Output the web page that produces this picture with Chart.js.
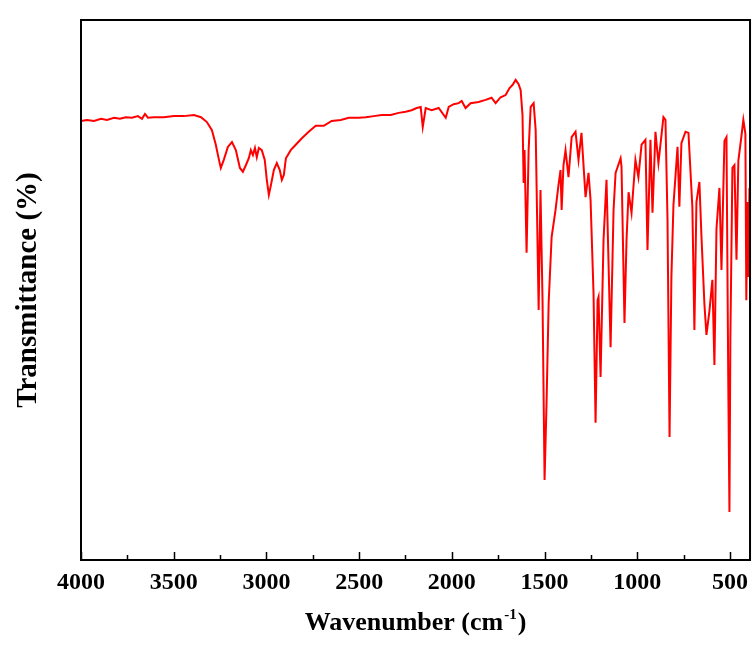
<!DOCTYPE html>
<html>
<head>
<meta charset="utf-8">
<script src="https://cdn.jsdelivr.net/npm/chart.js@4/dist/chart.umd.min.js"></script>
<style>
  html, body { margin: 0; padding: 0; background: #fff; }
</style>
</head>
<body>
<canvas id="irChart" width="756" height="648"></canvas>
<script>
// wavenumbers (cm-1) and transmittance (%)
const wavenumber = [
  4000, 3968, 3930, 3892, 3860, 3822, 3790, 3758, 3725, 3693, 3671, 3655, 3639, 3607, 3553, 3499,
  3445, 3391, 3353, 3321, 3294, 3273, 3256, 3246, 3230, 3208, 3186, 3165, 3143, 3127, 3111, 3095,
  3084, 3073, 3062, 3052, 3041, 3025, 3009, 2998, 2987, 2976, 2960, 2944, 2928, 2917, 2906, 2895,
  2869, 2842, 2809, 2772, 2734, 2691, 2648, 2599, 2556, 2502, 2464, 2421, 2378, 2330, 2287, 2249,
  2217, 2190, 2168, 2157, 2141, 2109, 2071, 2033, 2017, 1990, 1963, 1947, 1926, 1899, 1856, 1818,
  1786, 1764, 1737, 1710, 1689, 1672, 1656, 1640, 1629,
  1619, 1613, 1608, 1597, 1586, 1575, 1559, 1548, 1532, 1522, 1511, 1500, 1489, 1478, 1462, 1441,
  1425, 1414, 1408, 1398, 1387, 1371, 1354, 1333, 1317, 1301, 1279, 1263, 1252, 1236, 1225, 1214,
  1209, 1198, 1182, 1166, 1144, 1128, 1117, 1090, 1085, 1069, 1058, 1047, 1031, 1010, 994, 977,
  956, 945, 929, 918, 902, 886, 859, 848, 837, 826, 816, 805, 783, 773, 762, 740,
  724, 703, 692, 681, 665, 654, 638, 627, 611, 595, 584, 573, 557, 546, 530, 519,
  509, 503, 498, 487, 476, 465, 455, 439, 428, 417, 412, 406, 401, 395
];
const transmittance = [
  81.3, 81.5, 81.3, 81.7, 81.5, 81.9, 81.7, 82.0, 81.9, 82.2, 81.7, 82.6, 81.9, 82.0, 82.0, 82.2,
  82.2, 82.4, 82.0, 81.1, 79.6, 76.9, 74.1, 72.6, 74.1, 76.5, 77.4, 75.9, 72.6, 71.9, 73.1, 74.4,
  75.9, 75.0, 76.3, 74.6, 76.3, 75.9, 74.1, 70.4, 67.6, 69.4, 72.2, 73.5, 72.2, 70.4, 71.3, 74.4,
  75.9, 76.9, 78.1, 79.3, 80.4, 80.4, 81.3, 81.5, 81.9, 81.9, 82.0, 82.2, 82.4, 82.4, 82.8, 83.0,
  83.3, 83.7, 83.9, 80.2, 83.7, 83.3, 83.7, 81.9, 83.9, 84.4, 84.6, 85.0, 83.7, 84.6, 84.8, 85.2,
  85.6, 84.6, 85.7, 86.1, 87.4, 88.0, 88.9, 88.1, 87.0,
  82.4, 69.8, 75.9, 56.9, 75.9, 83.9, 84.6, 79.6, 46.3, 68.5, 48.1, 14.8, 29.6, 47.6, 59.8, 64.8,
  69.4, 72.2, 64.8, 73.1, 75.9, 70.9, 78.3, 79.3, 74.1, 79.1, 67.2, 71.7, 66.7, 49.4, 25.4, 48.1,
  48.7, 33.9, 59.3, 70.4, 39.4, 64.8, 71.7, 74.4, 72.8, 43.9, 59.3, 68.1, 64.3, 74.1, 70.9, 76.9,
  77.8, 57.4, 77.8, 64.3, 79.3, 73.5, 82.0, 81.5, 63.0, 22.8, 52.4, 65.7, 76.5, 65.4, 77.2, 79.3,
  79.1, 65.4, 42.6, 66.3, 70.0, 60.0, 47.4, 41.7, 46.1, 51.9, 36.1, 61.3, 68.9, 53.7, 77.6, 78.3,
  31.7, 8.9, 41.1, 72.6, 73.1, 55.6, 73.9, 78.3, 81.5, 78.9, 48.1, 66.3, 52.4, 68.9
];
const majorTicks = [4000, 3500, 3000, 2500, 2000, 1500, 1000, 500];
const minorTicks = [3750, 3250, 2750, 2250, 1750, 1250, 750];

const FONT = "'Liberation Serif', 'Times New Roman', serif";

// box round the plot, inward ticks, and the x title with a real superscript
const frame = {
  id: 'frame',
  afterDraw(chart) {
    const { ctx, chartArea: a } = chart;
    const x = chart.scales.x;
    ctx.save();
    ctx.strokeStyle = '#000';
    ctx.lineWidth = 2;
    ctx.strokeRect(a.left, a.top, a.right - a.left, a.bottom - a.top);
    ctx.lineWidth = 1.5;
    ctx.beginPath();
    majorTicks.forEach((v) => {
      const px = Math.round(x.getPixelForValue(v)) + 0.5;
      ctx.moveTo(px, a.bottom);
      ctx.lineTo(px, a.bottom - 8);
    });
    minorTicks.forEach((v) => {
      const px = Math.round(x.getPixelForValue(v)) + 0.5;
      ctx.moveTo(px, a.bottom);
      ctx.lineTo(px, a.bottom - 5);
    });
    ctx.stroke();

    const main = 'Wavenumber (cm';
    const sup = '-1';
    const close = ')';
    ctx.fillStyle = '#000';
    ctx.textBaseline = 'alphabetic';
    ctx.textAlign = 'left';
    const big = `bold 26px ${FONT}`;
    const small = `bold 15px ${FONT}`;
    ctx.font = big;
    const w1 = ctx.measureText(main).width;
    const w3 = ctx.measureText(close).width;
    ctx.font = small;
    const w2 = ctx.measureText(sup).width;
    const total = w1 + w2 + w3 + 2;
    let cx = (a.left + a.right) / 2 - total / 2;
    const base = 630;
    ctx.font = big;
    ctx.fillText(main, cx, base);
    cx += w1 + 1;
    ctx.font = small;
    ctx.fillText(sup, cx, base - 11);
    cx += w2 + 1;
    ctx.font = big;
    ctx.fillText(close, cx, base);
    ctx.restore();
  },
};

new Chart(document.getElementById('irChart'), {
  type: 'line',
  data: {
    datasets: [{
      data: wavenumber.map((w, i) => ({ x: w, y: transmittance[i] })),
      borderColor: '#ff0000',
      borderWidth: 2,
      pointRadius: 0,
      tension: 0,
      fill: false,
    }],
  },
  options: {
    responsive: false,
    animation: false,
    events: [],
    layout: { padding: { top: 20, right: 0, left: 0, bottom: 0 } },
    plugins: { legend: { display: false }, tooltip: { enabled: false } },
    scales: {
      x: {
        type: 'linear',
        reverse: true,
        min: 392,
        max: 4000,
        afterBuildTicks: (scale) => { scale.ticks = majorTicks.map((v) => ({ value: v })); },
        afterFit: (scale) => { scale.height = 88; },
        grid: { display: false, drawTicks: false },
        border: { display: false },
        ticks: {
          padding: 8,
          maxRotation: 0,
          autoSkip: false,
          color: '#000',
          font: { family: FONT, size: 24, weight: 'bold' },
          callback: (v) => String(v),
        },
      },
      y: {
        min: 0,
        max: 100,
        afterFit: (scale) => { scale.width = 81; },
        grid: { display: false, drawTicks: false },
        border: { display: false },
        ticks: { display: false },
        title: {
          display: true,
          text: 'Transmittance (%)',
          color: '#000',
          padding: { top: 11 },
          font: { family: FONT, size: 29, weight: 'bold' },
        },
      },
    },
  },
  plugins: [frame],
});
</script>
</body>
</html>
